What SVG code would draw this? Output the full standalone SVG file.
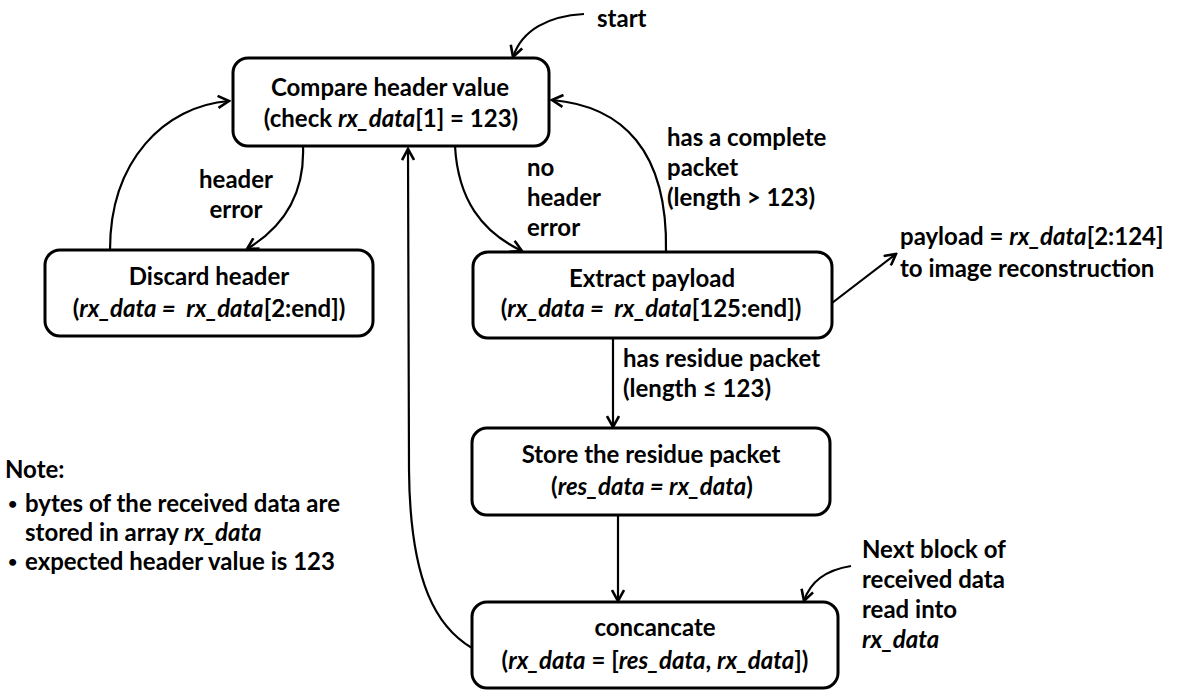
<svg xmlns="http://www.w3.org/2000/svg" width="1179" height="692" viewBox="0 0 1179 692">
  <style>
    .box { fill: #ffffff; stroke: #000000; stroke-width: 3; }
    .t { font-family: Lato, "Liberation Sans", sans-serif; font-weight: bold; font-size: 24px; fill: #000000; }
    .c { text-anchor: middle; }
    .i { font-style: italic; }
    .dot { font-size: 16px; }
    .edge { fill: none; stroke: #000000; stroke-width: 2.2; marker-end: url(#arrow); }
  </style>
  <defs>
    <marker id="arrow" viewBox="0 0 14 14" refX="12" refY="7" markerWidth="14" markerHeight="14" markerUnits="userSpaceOnUse" orient="auto">
      <path d="M1,1 L12,7 L1,13" fill="none" stroke="#000000" stroke-width="2.6" stroke-linejoin="miter"/>
    </marker>
  </defs>

  <rect width="1179" height="692" fill="#ffffff"/>

  <!-- connectors -->
  <g id="connectors">
    <path class="edge" d="M584,14 C548,16 522,30 513,57"/>
    <path class="edge" d="M110,250 C110,160 165,106 229,101"/>
    <path class="edge" d="M303,146 C305,195 282,228 247,249"/>
    <path class="edge" d="M455,146 C458,200 482,232 522,251"/>
    <path class="edge" d="M666,252 C668,150 622,106 552,100"/>
    <path class="edge" d="M832,303 L896,254"/>
    <path class="edge" d="M613,338 L613,427"/>
    <path class="edge" d="M618,515 L618,601"/>
    <path class="edge" d="M851,566 C826,570 810,582 804,601"/>
    <path class="edge" d="M472,648 C438,628 410,585 409,470 L408,149"/>
  </g>

  <!-- edge labels -->
  <g id="labels" class="t">
    <text x="597" y="27">start</text>
    <text class="c" x="236" y="188">header</text>
    <text class="c" x="236" y="218">error</text>
    <text x="527" y="176">no</text>
    <text x="527" y="206">header</text>
    <text x="527" y="236">error</text>
    <text x="667" y="146">has a complete</text>
    <text x="667" y="176">packet</text>
    <text x="667" y="206">(length &gt; 123)</text>
    <text x="900" y="245">payload = <tspan class="i">rx_data</tspan>[2:124]</text>
    <text x="900" y="277">to image reconstruction</text>
    <text x="623" y="367">has residue packet</text>
    <text x="623" y="397">(length ≤ 123)</text>
    <text x="862" y="558">Next block of</text>
    <text x="862" y="588">received data</text>
    <text x="862" y="618">read into</text>
    <text x="862" y="648" class="i">rx_data</text>
  </g>

  <!-- nodes -->
  <g id="compare">
    <rect class="box" x="233" y="58" width="316" height="88" rx="15"/>
    <text class="t c" x="390" y="96">Compare header value</text>
    <text class="t c" x="391" y="127">(check <tspan class="i">rx_data</tspan>[1] = 123)</text>
  </g>
  <g id="discard">
    <rect class="box" x="45" y="250" width="328" height="86" rx="15"/>
    <text class="t c" x="209" y="285">Discard header</text>
    <text class="t c" x="209" y="317">(<tspan class="i">rx_data =&#160; rx_data</tspan>[2:end])</text>
  </g>
  <g id="extract">
    <rect class="box" x="473" y="252" width="359" height="86" rx="15"/>
    <text class="t c" x="652" y="287">Extract payload</text>
    <text class="t c" x="651" y="317">(<tspan class="i">rx_data =&#160; rx_data</tspan>[125:end])</text>
  </g>
  <g id="store">
    <rect class="box" x="472" y="428" width="358" height="87" rx="15"/>
    <text class="t c" x="651" y="463">Store the residue packet</text>
    <text class="t c" x="652" y="495">(<tspan class="i">res_data = rx_data</tspan>)</text>
  </g>
  <g id="concat">
    <rect class="box" x="472" y="602" width="366" height="86" rx="15"/>
    <text class="t c" x="655" y="636">concancate</text>
    <text class="t c" x="655" y="669">(<tspan class="i">rx_data</tspan> = [<tspan class="i">res_data</tspan>, <tspan class="i">rx_data</tspan>])</text>
  </g>

  <!-- note -->
  <g id="note" class="t">
    <text x="5" y="478">Note:</text>
    <text class="dot" x="8" y="509">•</text>
    <text x="25" y="512">bytes of the received data are</text>
    <text x="25" y="541">stored in array <tspan class="i">rx_data</tspan></text>
    <text class="dot" x="8" y="567">•</text>
    <text x="25" y="570">expected header value is 123</text>
  </g>
</svg>
